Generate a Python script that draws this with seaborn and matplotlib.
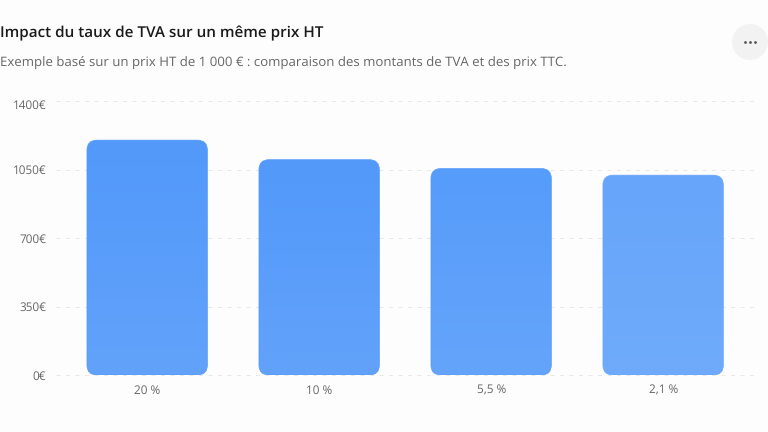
import numpy as np
import pandas as pd
import matplotlib
matplotlib.use("Agg")
import matplotlib.pyplot as plt
from matplotlib.patches import FancyBboxPatch, Circle
from matplotlib.colors import to_rgb
from matplotlib.transforms import ScaledTranslation
import seaborn as sns

taux = ["20 %", "10 %", "5,5 %", "2,1 %"]
prix_ttc = [1200, 1100, 1055, 1021]
yticks = [0, 350, 700, 1050, 1400]
top_colors = ["#5299FB", "#5299FB", "#569CFB", "#66A5FA"]
bottom_colors = ["#62A2FA", "#62A2FA", "#65A4FA", "#70ABFB"]
BG = "#FDFDFD"
W, H = 768, 432

sns.set_theme(style="white")
plt.rcParams["font.family"] = ["Open Sans", "DejaVu Sans"]
plt.rcParams["text.hinting"] = "no_hinting"

fig = plt.figure(figsize=(W / 100, H / 100), dpi=100, facecolor=BG)
ax = fig.add_axes([56 / W, 1 - 375 / H, 700 / W, 274 / H], facecolor=BG)

df = pd.DataFrame({"taux": taux, "ttc": prix_ttc})
sns.barplot(data=df, x="taux", y="ttc", ax=ax, width=0.7, color="#5299FB", saturation=1)

ax.set_xlim(-0.53, 3.54)
ax.set_ylim(0, 1400)
ax.set_yticks(yticks)
ax.set_yticklabels([f"{v}€" for v in yticks])
ax.set_xlabel("")
ax.set_ylabel("")
ax.tick_params(axis="y", length=0, pad=7, labelsize=8.5, labelcolor="#666666")
ax.tick_params(axis="x", length=0, pad=7, labelsize=8.5, labelcolor="#666666")
for s in ax.spines.values():
    s.set_visible(False)
ax.yaxis.grid(True, color="#E8E8E8", lw=0.72, ls=(0, (4, 5.5)))
ax.set_axisbelow(True)
for ln in ax.get_ygridlines():
    ln.set_clip_on(False)

# top tick label sits lower than its gridline in the reference
top_label = ax.get_yticklabels()[-1]
top_label.set_transform(top_label.get_transform() + ScaledTranslation(0, -3 / 100, fig.dpi_scale_trans))

# Round the corners of the seaborn bars and fill with a vertical gradient
for bar, c0, c1 in zip(list(ax.patches), top_colors, bottom_colors):
    x0, y0, w, h = bar.get_x(), bar.get_y(), bar.get_width(), bar.get_height()
    bar.set_visible(False)
    p0 = ax.transData.transform((x0, y0))
    p1 = ax.transData.transform((x0 + w, y0 + h))
    r = 10
    box = FancyBboxPatch((p0[0] + r, p0[1] + r), p1[0] - p0[0] - 2 * r, p1[1] - p0[1] - 2 * r,
                         boxstyle=f"round,pad={r},rounding_size={r}",
                         transform=None, facecolor="none", edgecolor=c0, linewidth=0.5, zorder=4)
    ax.add_patch(box)
    grad = np.linspace(0, 1, 256)[:, None, None]
    img = (1 - grad) * np.array(to_rgb(c0)) + grad * np.array(to_rgb(c1))
    im = ax.imshow(img, extent=(x0, x0 + w, y0, y0 + h), origin="upper", aspect="auto", zorder=3)
    im.set_clip_path(box)
ax.set_xlim(-0.53, 3.54)
ax.set_ylim(0, 1400)

fig.text(0, 1 - 33 / H, "Impact du taux de TVA sur un même prix HT", fontsize=11, fontweight="semibold",
         color="#1A1A1A", va="center", ha="left")
fig.text(0, 1 - 63 / H, "Exemple basé sur un prix HT de 1 000 € : comparaison des montants de TVA et des prix TTC.",
         fontsize=9.5, color="#666666", va="center", ha="left")

# menu button
overlay = fig.add_axes([0, 0, 1, 1], facecolor="none")
overlay.set_xlim(0, W)
overlay.set_ylim(H, 0)
overlay.axis("off")
overlay.add_patch(Circle((750, 42), 18, facecolor="#F2F2F2", edgecolor="none"))
overlay.scatter([745, 750, 754.5], [42, 42, 42], s=4, color="#555555", linewidths=0)

fig.savefig("out.png", dpi=100, facecolor=BG)
